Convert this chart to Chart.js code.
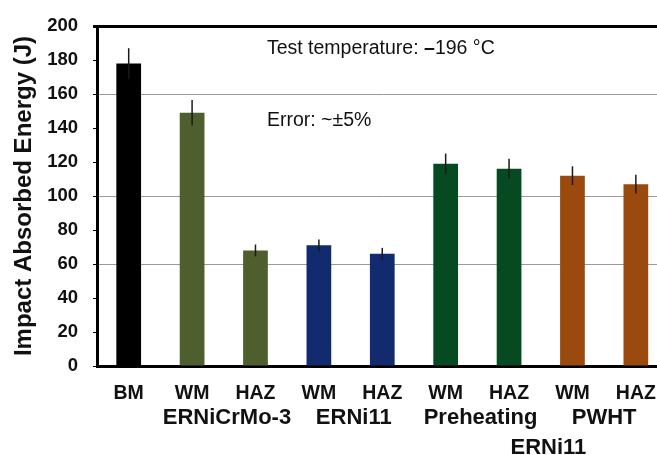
<!DOCTYPE html>
<html>
<head>
<meta charset="utf-8">
<script src="https://cdn.jsdelivr.net/npm/chart.js@4/dist/chart.umd.min.js"></script>
<style>
  html, body { margin: 0; padding: 0; background: #fff; overflow: hidden; }
  #wrap { width: 672px; height: 455px; }
</style>
</head>
<body>
<div id="wrap"><canvas id="impactChart" width="672" height="455"></canvas></div>
<script>
// categories and values
var categories = ["BM", "WM", "HAZ", "WM", "HAZ", "WM", "HAZ", "WM", "HAZ"];
var energy = [178, 149, 68, 71, 66, 119, 116, 112, 107];
var errors = [9, 7.5, 3.5, 3.5, 3.5, 6, 6, 5.5, 5.5];
var barColors = ["#000000", "#4e5e2c", "#4e5e2c", "#122a6e", "#122a6e",
                 "#064a22", "#064a22", "#9a4a0e", "#9a4a0e"];
// group captions: [text, category position, row]
var groups = [["ERNiCrMo-3", 1.55, 0], ["ERNi11", 3.55, 0], ["Preheating", 5.55, 0],
              ["ERNi11", 6.62, 1], ["PWHT", 7.5, 0]];
var yTicks = [0, 20, 40, 60, 80, 100, 120, 140, 160, 180, 200];
var shownGrid = [60, 100, 160, 200];
var FONT = "'Liberation Sans', Arial, sans-serif";

var extras = {
    id: "extras",
    afterDatasetsDraw: function(chart) {
        var ctx = chart.ctx;
        var x = chart.scales.x, y = chart.scales.y;
        ctx.save();
        // error bars
        ctx.strokeStyle = "#1a1a1a";
        ctx.lineWidth = 1.5;
        energy.forEach(function(v, i) {
            var px = x.getPixelForValue(i);
            ctx.beginPath();
            ctx.moveTo(px, y.getPixelForValue(v + errors[i]));
            ctx.lineTo(px, y.getPixelForValue(v - errors[i]));
            ctx.stroke();
        });
        // notes
        ctx.fillStyle = "#111";
        ctx.textAlign = "left";
        ctx.textBaseline = "middle";
        var nx = x.getPixelForValue(2.18);
        var ny = y.getPixelForValue(186.5);
        ctx.font = "19.5px " + FONT;
        ctx.fillText("Test temperature: ", nx, ny);
        var w = ctx.measureText("Test temperature: ").width;
        ctx.font = "bold 19.5px " + FONT;
        ctx.fillText("\u2013", nx + w, ny);
        var w2 = ctx.measureText("\u2013").width;
        ctx.font = "19.5px " + FONT;
        ctx.fillText("196 \u00B0C", nx + w + w2, ny);
        ctx.fillText("Error: ~\u00B15%", nx, y.getPixelForValue(144.5));
        // group captions under the ticks
        ctx.textAlign = "center";
        ctx.font = "bold 22px " + FONT;
        var base = y.getPixelForValue(0);
        var rowOff = [52, 82];
        groups.forEach(function(g) {
            ctx.fillText(g[0], x.getPixelForValue(g[1]), base + rowOff[g[2]]);
        });
        ctx.restore();
    }
};

var ctx = document.getElementById("impactChart").getContext("2d");
var chart = new Chart(ctx, {
    type: "bar",
    data: {
        labels: categories,
        datasets: [{
            data: energy,
            backgroundColor: barColors,
            borderWidth: 0,
            barPercentage: 0.39,
            categoryPercentage: 1
        }]
    },
    options: {
        responsive: false,
        animation: false,
        layout: { padding: { top: 21, right: 2, left: 0, bottom: 0 } },
        plugins: { legend: { display: false }, tooltip: { enabled: false } },
        scales: {
            x: {
                grid: { display: false, drawTicks: false },
                border: { color: "#000", width: 3 },
                ticks: {
                    color: "#111",
                    padding: 16,
                    maxRotation: 0,
                    autoSkip: false,
                    font: { family: FONT, size: 19.5, weight: "bold" }
                },
                afterFit: function(s) { s.height = 89; }
            },
            y: {
                min: 0,
                max: 200,
                afterBuildTicks: function(s) { s.ticks = yTicks.map(function(v) { return { value: v }; }); },
                grid: {
                    color: function(c) {
                        var v = c.tick && c.tick.value;
                        if (v === 200) return "#000";
                        return shownGrid.indexOf(v) >= 0 ? "#9a9a9a" : "rgba(0,0,0,0)";
                    },
                    lineWidth: function(c) { return c.tick && c.tick.value === 200 ? 3 : 1; },
                    tickColor: "#000",
                    tickLength: 4
                },
                border: { color: "#000", width: 3 },
                ticks: {
                    color: "#111",
                    padding: 15,
                    font: { family: FONT, size: 18.5, weight: "bold" }
                },
                title: {
                    display: true,
                    text: "Impact Absorbed Energy (J)",
                    color: "#111",
                    padding: { top: 10, bottom: 0 },
                    font: { family: FONT, size: 24, weight: "bold" }
                },
                afterFit: function(s) { s.width = 97; }
            }
        }
    },
    plugins: [extras]
});
</script>
</body>
</html>
